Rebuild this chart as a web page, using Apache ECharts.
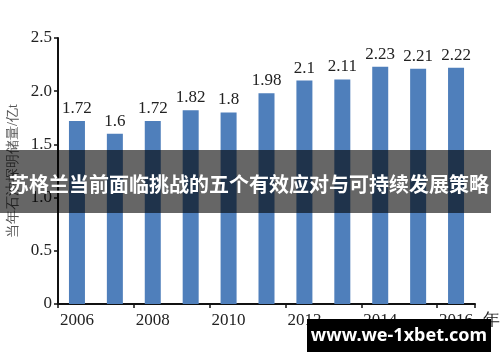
<!DOCTYPE html>
<html>
<head>
<meta charset="utf-8">
<script src="https://cdn.jsdelivr.net/npm/echarts@6/dist/echarts.min.js"></script>
<style>html,body{margin:0;padding:0;background:#fff;}#c{width:500px;height:362px;}</style>
</head>
<body>
<div id="c"></div>
<script>
const years = ['2006','2007','2008','2009','2010','2011','2012','2013','2014','2015','2016'];
const reserves = [1.72, 1.6, 1.72, 1.82, 1.8, 1.98, 2.1, 2.11, 2.23, 2.21, 2.22];
const yTicks = [0, 0.5, 1.0, 1.5, 2.0, 2.5];
const yName = '当年石油探明储量/亿t';
const xName = '年';
const bannerText = '苏格兰当前面临挑战的五个有效应对与可持续发展策略';
const watermark = 'www.we-1xbet.com';

const serif = '"Liberation Serif", "Times New Roman", serif';
const chart = echarts.init(document.getElementById('c'));
chart.setOption({
  animation: false,
  backgroundColor: '#fff',
  grid: {left: 58, right: 25, top: 38, bottom: 58, containLabel: false, outerBoundsMode: 'none'},
  xAxis: {
    type: 'category',
    data: years,
    name: xName,
    nameLocation: 'end',
    nameGap: 8,
    nameTextStyle: {fontFamily: serif, fontSize: 17, color: '#222', verticalAlign: 'top', padding: [8, 0, 0, 0]},
    axisLine: {lineStyle: {color: '#111', width: 2}},
    axisTick: {show: true, length: 4, lineStyle: {color: '#111', width: 1.5}},
    axisLabel: {interval: 1, fontFamily: serif, fontSize: 17, color: '#222', margin: 8}
  },
  yAxis: {
    type: 'value',
    min: 0, max: 2.5, interval: 0.5,
    name: yName,
    nameLocation: 'middle',
    nameGap: 38,
    nameRotate: 90,
    nameTextStyle: {fontFamily: serif, fontSize: 14, color: '#555'},
    splitLine: {show: false},
    axisLine: {show: true, lineStyle: {color: '#111', width: 2}},
    axisTick: {show: true, length: 4, lineStyle: {color: '#111', width: 1.5}},
    axisLabel: {
      fontFamily: serif, fontSize: 17, color: '#222', margin: 6,
      formatter: function (v) { return yTicks.indexOf(v) >= 0 ? (v === 0 ? '0' : v.toFixed(1)) : ''; }
    }
  },
  series: [{
    type: 'bar',
    data: reserves,
    barWidth: 16,
    itemStyle: {color: '#4f7fbb'},
    label: {show: true, position: 'top', distance: 4, fontFamily: serif, fontSize: 17, color: '#222'}
  }],
  graphic: [
    {type: 'rect', left: 0, top: 150, shape: {width: 491, height: 63}, style: {fill: 'rgba(0,0,0,0.6)'}, z: 100},
    {type: 'text', x: 249, y: 184, style: {text: bannerText, fill: '#fff', font: 'bold 20px "Noto Sans CJK SC", sans-serif', align: 'center', verticalAlign: 'middle'}, z: 101},
    {type: 'rect', left: 307, top: 319, shape: {width: 184, height: 33}, style: {fill: '#000'}, z: 100},
    {type: 'text', x: 399, y: 336, style: {text: watermark, fill: '#fff', font: 'bold 18px "Noto Sans", "DejaVu Sans", sans-serif', align: 'center', verticalAlign: 'middle'}, z: 101}
  ]
});
</script>
</body>
</html>
